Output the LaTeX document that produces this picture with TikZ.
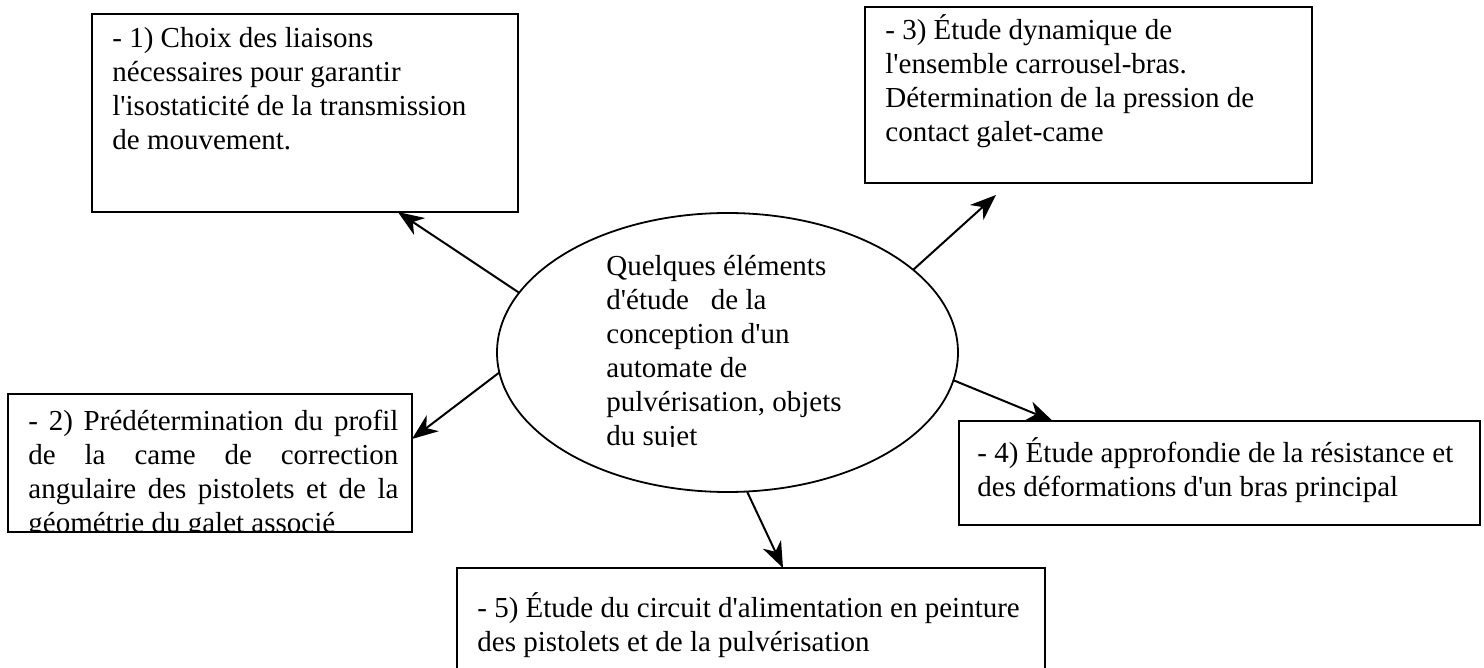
\documentclass[tikz,border=0pt]{standalone}
\usepackage{fontspec}
\setmainfont{Liberation Serif}[Ligatures=TeXOff]
\usetikzlibrary{arrows.meta,calc,shapes.geometric}
\begin{document}
\begin{tikzpicture}[x=0.5pt,y=-0.5pt,
  box/.style={draw,line width=1pt,anchor=north west,inner sep=0pt,outer sep=0pt},
  txt/.style={anchor=north west,inner sep=0pt,align=left,font=\fontsize{14.5pt}{17pt}\selectfont},
  arr/.style={line width=1pt,-{Stealth[length=13pt,width=10pt,inset=4pt]}}]
\useasboundingbox (0,0) rectangle (1484,668);
\clip (0,0) rectangle (1484,668);
% boxes
\node[box,minimum width=213pt,minimum height=99pt] (b1) at (92,14) {};
\node[box,minimum width=223.5pt,minimum height=88pt] (b3) at (865,7) {};
\node[box,minimum width=202pt,minimum height=69pt] (b2) at (8,394) {};
\node[box,minimum width=260.5pt,minimum height=52pt] (b4) at (959,421) {};
\node[box,minimum width=294pt,minimum height=66pt] (b5) at (457,568) {};
\node[draw,ellipse,line width=0.9pt,minimum width=230.5pt,minimum height=139.5pt,inner sep=0pt,outer sep=0pt] (e) at (727.5,352.5) {};
% texts
\node[txt] (t1) at (112,20) {\rule{0pt}{13.5pt}- 1) Choix des liaisons\\nécessaires pour garantir\\l'isostaticité de la transmission\\de mouvement.};
\node[txt] (t3) at (885,12) {\rule{0pt}{13.5pt}- 3) Étude dynamique de\\l'ensemble carrousel-bras.\\Détermination de la pression de\\contact galet-came};
\begin{scope}
\clip (b2.north west) rectangle (b2.south east);
\node[txt] (t2) at (28,403) {\rule{0pt}{13.5pt}\makebox[185pt][s]{- 2) Prédétermination du profil}\\\makebox[185pt][s]{de la came de correction}\\\makebox[185pt][s]{angulaire des pistolets et de la}\\géométrie du galet associé};
\end{scope}
\node[txt] (t4) at (977,435) {\rule{0pt}{13.5pt}- 4) Étude approfondie de la résistance et\\des déformations d'un bras principal};
\node[txt] (t5) at (477,590) {\rule{0pt}{13.5pt}- 5) Étude du circuit d'alimentation en peinture\\des pistolets et de la pulvérisation};
\begin{scope}
\clip (500,200) rectangle (950,446);
\node[txt] (te) at (606,248) {\rule{0pt}{13.5pt}Quelques éléments\\d'étude\hspace{11pt}de la\\conception d'un\\automate de\\pulvérisation, objets\\du sujet};
\end{scope}
% arrows
\coordinate (a3) at ($(b3.south west)+(131,12)$);
\draw[arr] (e.164) -- ($(b1.south west)!0.718!(b1.south east)$);
\draw[arr] (e.24) -- (a3);
\draw[arr] (e.185.6) -- ($(b2.north east)!0.326!(b2.south east)$);
\draw[arr] (e.-7.2) -- ($(b4.north west)!0.18!(b4.north east)$);
\draw[arr] (e.-82) -- ($(b5.north west)+(326,0)$);
\end{tikzpicture}
\end{document}
